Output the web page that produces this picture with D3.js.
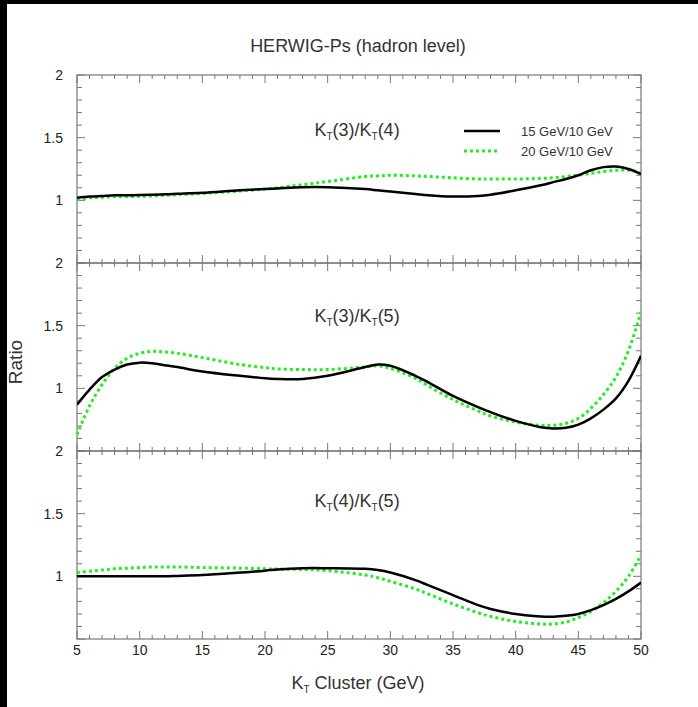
<!DOCTYPE html>
<html>
<head>
<meta charset="utf-8">
<script src="https://cdn.jsdelivr.net/npm/d3@7"></script>
<style>
  body { margin: 0; background: #fff; }
  svg { display: block; }
</style>
</head>
<body>
<svg id="chart"></svg>
<script>
// ### Data ###
var kt = [5, 6, 7, 8, 9, 10, 11, 12, 13, 15, 18, 20, 21, 23, 25, 28, 29, 30, 32, 33, 35, 37, 38, 40, 42, 43, 44, 45, 46, 47, 48, 49, 50];

// top panel  Kt(3)/Kt(4)
var top15 = [1.02, 1.03, 1.035, 1.04, 1.04, 1.042, 1.045, 1.048, 1.052, 1.06, 1.08, 1.09, 1.095, 1.105, 1.105, 1.09, 1.08, 1.07, 1.05, 1.04, 1.03, 1.035, 1.045, 1.08, 1.12, 1.145, 1.17, 1.20, 1.24, 1.265, 1.27, 1.25, 1.21];
var top20 = [1.01, 1.02, 1.025, 1.03, 1.03, 1.032, 1.035, 1.04, 1.045, 1.055, 1.075, 1.09, 1.10, 1.125, 1.15, 1.19, 1.195, 1.20, 1.195, 1.19, 1.18, 1.17, 1.17, 1.17, 1.175, 1.18, 1.19, 1.20, 1.215, 1.23, 1.24, 1.24, 1.22];
// middle panel  Kt(3)/Kt(5)
var mid15 = [0.87, 0.99, 1.09, 1.15, 1.19, 1.205, 1.20, 1.185, 1.17, 1.135, 1.10, 1.08, 1.075, 1.075, 1.10, 1.17, 1.19, 1.18, 1.10, 1.05, 0.94, 0.85, 0.81, 0.74, 0.69, 0.68, 0.685, 0.71, 0.76, 0.83, 0.92, 1.06, 1.26];
var mid20 = [0.63, 0.86, 1.03, 1.16, 1.24, 1.28, 1.295, 1.29, 1.28, 1.245, 1.19, 1.165, 1.155, 1.15, 1.15, 1.17, 1.18, 1.16, 1.08, 1.02, 0.91, 0.82, 0.78, 0.73, 0.705, 0.705, 0.72, 0.76, 0.84, 0.95, 1.09, 1.30, 1.61];
// bottom panel  Kt(4)/Kt(5)
var bot15 = [1.0, 1.0, 1.0, 1.0, 1.0, 1.0, 1.0, 1.0, 1.003, 1.01, 1.03, 1.045, 1.055, 1.065, 1.065, 1.06, 1.05, 1.03, 0.97, 0.93, 0.85, 0.77, 0.74, 0.70, 0.68, 0.678, 0.685, 0.70, 0.73, 0.77, 0.82, 0.88, 0.95];
var bot20 = [1.03, 1.04, 1.05, 1.06, 1.065, 1.07, 1.075, 1.075, 1.075, 1.07, 1.065, 1.06, 1.058, 1.055, 1.045, 1.01, 0.99, 0.96, 0.90, 0.86, 0.78, 0.71, 0.68, 0.64, 0.62, 0.62, 0.635, 0.67, 0.72, 0.79, 0.88, 1.0, 1.17];

var panelTitles = [["3", "4"], ["3", "5"], ["4", "5"]];
var legendLabels = ["15 GeV/10 GeV", "20 GeV/10 GeV"];
var xTickLabels = [5, 10, 15, 20, 25, 30, 35, 40, 45, 50];
var yTickLabels = [2, 1.5, 1];

var panels = [
  {a: top15, b: top20},
  {a: mid15, b: mid20},
  {a: bot15, b: bot20}
];

// ### Setting up canvas ###
var W = 698, H = 707;
var margin = {top: 75, left: 77, right: 57, bottom: 68};
var width = W - margin.left - margin.right;
var height = H - margin.top - margin.bottom;
var ph = height / 3;

var svg = d3.select('#chart')
  .attr('width', W)
  .attr('height', H)
  .style('font-family', 'Liberation Sans, Arial, sans-serif');

svg.append('rect').attr('width', W).attr('height', H).attr('fill', '#fff');
// black scan border on top and left
svg.append('rect').attr('x', 0).attr('y', 0).attr('width', W).attr('height', 4).attr('fill', '#000');
svg.append('rect').attr('x', 0).attr('y', 0).attr('width', 7).attr('height', H).attr('fill', '#000');

var xScale = d3.scaleLinear().domain([5, 50]).range([0, width]);
var yScale = d3.scaleLinear().domain([0.5, 2]).range([ph, 0]);

var g = svg.append('g').attr('transform', `translate(${margin.left},${margin.top})`);

svg.append('defs').append('clipPath').attr('id', 'clip')
  .append('rect').attr('width', width).attr('height', ph);

var line = d3.line()
  .x((d, i) => xScale(kt[i]))
  .y(d => yScale(d))
  .curve(d3.curveCatmullRom.alpha(0.5));

var frameColor = '#777';

panels.forEach(function(p, k) {
  var pg = g.append('g').attr('transform', `translate(0,${k * ph})`);

  // frame
  pg.append('rect')
    .attr('width', width).attr('height', ph)
    .attr('fill', 'none').attr('stroke', frameColor).attr('stroke-width', 1.2);

  // x ticks, inward on top and bottom
  var xt = d3.range(5, 51, 1);
  xt.forEach(function(v) {
    var len = v % 5 === 0 ? 8 : 4;
    pg.append('line').attr('x1', xScale(v)).attr('x2', xScale(v))
      .attr('y1', ph).attr('y2', ph - len).attr('stroke', frameColor);
    pg.append('line').attr('x1', xScale(v)).attr('x2', xScale(v))
      .attr('y1', 0).attr('y2', len).attr('stroke', frameColor);
  });

  // y ticks, inward on left and right
  var yt = d3.range(5, 21, 1).map(d => d / 10);
  yt.forEach(function(v) {
    var len = Math.round(v * 10) % 5 === 0 ? 8 : 5;
    pg.append('line').attr('x1', 0).attr('x2', len)
      .attr('y1', yScale(v)).attr('y2', yScale(v)).attr('stroke', frameColor);
    pg.append('line').attr('x1', width).attr('x2', width - len)
      .attr('y1', yScale(v)).attr('y2', yScale(v)).attr('stroke', frameColor);
  });

  // y tick labels
  pg.selectAll('.ylab')
    .data(yTickLabels)
    .enter()
    .append('text')
    .attr('x', -14)
    .attr('y', d => yScale(d) + 5)
    .attr('text-anchor', 'end')
    .attr('font-size', 14)
    .attr('fill', '#222')
    .text(d => d);

  // curves
  var cg = pg.append('g').attr('clip-path', 'url(#clip)');
  cg.append('path').datum(p.b)
    .attr('d', line).attr('fill', 'none')
    .attr('stroke', '#22ee22').attr('stroke-width', 3)
    .attr('stroke-dasharray', '3,3');
  cg.append('path').datum(p.a)
    .attr('d', line).attr('fill', 'none')
    .attr('stroke', '#000').attr('stroke-width', 2.5);

  // panel label  K_T(a)/K_T(b)
  var t = pg.append('text')
    .attr('x', 280).attr('y', [61, 59, 56][k])
    .attr('text-anchor', 'middle')
    .attr('font-size', 18)
    .attr('fill', '#333');
  var pt = panelTitles[k];
  t.append('tspan').text('K');
  t.append('tspan').attr('font-size', 10).attr('dy', 4).text('T');
  t.append('tspan').attr('dy', -4).text('(' + pt[0] + ')/K');
  t.append('tspan').attr('font-size', 10).attr('dy', 4).text('T');
  t.append('tspan').attr('dy', -4).text('(' + pt[1] + ')');
});

// x tick labels
g.selectAll('.xlab')
  .data(xTickLabels)
  .enter()
  .append('text')
  .attr('x', d => xScale(d))
  .attr('y', height + 16)
  .attr('text-anchor', 'middle')
  .attr('font-size', 14)
  .attr('fill', '#222')
  .text(d => d);

// ### Legend ###
var leg = g.append('g').attr('transform', 'translate(387,56)');
leg.append('line').attr('x1', 0).attr('x2', 36).attr('y1', 0).attr('y2', 0)
  .attr('stroke', '#000').attr('stroke-width', 2.5);
leg.append('line').attr('x1', 0).attr('x2', 36).attr('y1', 20).attr('y2', 20)
  .attr('stroke', '#22ee22').attr('stroke-width', 3).attr('stroke-dasharray', '3,3');
leg.selectAll('text')
  .data(legendLabels)
  .enter()
  .append('text')
  .attr('x', 57)
  .attr('y', (d, i) => i * 20 + 5)
  .attr('font-size', 13)
  .attr('fill', '#333')
  .text(d => d);

// ### Titles ###
svg.append('text')
  .attr('x', 358).attr('y', 52)
  .attr('text-anchor', 'middle')
  .attr('font-size', 18)
  .attr('fill', '#333')
  .text('HERWIG-Ps (hadron level)');

var xt = svg.append('text')
  .attr('x', 358).attr('y', 689)
  .attr('text-anchor', 'middle')
  .attr('font-size', 18)
  .attr('fill', '#333');
xt.append('tspan').text('K');
xt.append('tspan').attr('font-size', 10).attr('dy', 4).text('T');
xt.append('tspan').attr('dy', -4).text(' Cluster (GeV)');

svg.append('text')
  .attr('transform', 'translate(22,362) rotate(-90)')
  .attr('text-anchor', 'middle')
  .attr('font-size', 19)
  .attr('fill', '#333')
  .text('Ratio');
</script>
</body>
</html>
